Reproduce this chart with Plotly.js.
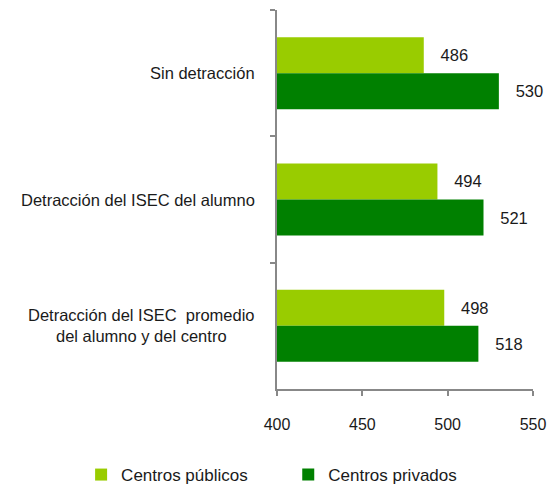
<!DOCTYPE html>
<html>
<head>
<meta charset="utf-8">
<script src="https://cdn.plot.ly/plotly-3.0.1.min.js"></script>
<style>html,body{margin:0;padding:0;background:#fff;}#chart{width:548px;height:486px;}</style>
</head>
<body>
<div id="chart"></div>
<script>
const categories = ["Sin detracción", "Detracción del ISEC del alumno", "Detracción del ISEC  promedio<br>del alumno y del centro"];
const seriesNames = ["Centros públicos", "Centros privados"];
const publicos = [486, 494, 498];
const privados = [530, 521, 518];
const xTicks = [400, 450, 500, 550];

const FONT = "Liberation Sans, Arial, sans-serif";
const pad = "\u00a0\u00a0\u00a0";

function barTrace(name, vals, color, leg) {
  return {
    type: "bar", orientation: "h", name: name, legend: leg,
    x: vals, y: categories,
    marker: {color: color},
    text: vals.map(v => pad + v), textposition: "outside", cliponaxis: false,
    textfont: {family: FONT, size: 16.5, color: "#1a1a1a"},
    hoverinfo: "x"
  };
}

const data = [
  barTrace(seriesNames[0], publicos, "#99CC00", "legend"),
  barTrace(seriesNames[1], privados, "#008000", "legend2")
];

const annotations = categories.map(c => ({
  xref: "paper", yref: "y", x: -0.078, y: c, xanchor: "right", yanchor: "middle",
  text: c, align: "center", showarrow: false,
  font: {family: FONT, size: 16.5, color: "#1a1a1a"}
}));

const legBase = {orientation: "h", xref: "container", xanchor: "left",
  y: 0.0226, yref: "container", yanchor: "middle",
  font: {family: FONT, size: 17, color: "#1a1a1a"}, bgcolor: "rgba(0,0,0,0)"};

const layout = {
  width: 548, height: 486,
  margin: {l: 277, r: 15, t: 10, b: 97, autoexpand: false},
  paper_bgcolor: "#fff", plot_bgcolor: "#fff",
  barmode: "group", bargap: 0.43, bargroupgap: 0,
  font: {family: FONT, size: 16, color: "#1a1a1a"},
  showlegend: true,
  legend: Object.assign({}, legBase, {x: 0.148}),
  legend2: Object.assign({}, legBase, {x: 0.526}),
  xaxis: {range: [400, 550], tickvals: xTicks, ticktext: xTicks.map(String),
          showgrid: false, zeroline: false, showline: true, linecolor: "#888", linewidth: 2,
          ticks: "outside", ticklen: 5, tickcolor: "#888", tickwidth: 2,
          ticklabelstandoff: 15, fixedrange: true},
  yaxis: {autorange: "reversed", type: "category", showticklabels: false,
          showgrid: false, zeroline: false, showline: true, linecolor: "#888", linewidth: 2,
          ticks: "outside", tickson: "boundaries", ticklen: 5, tickcolor: "#888", tickwidth: 2},
  annotations: annotations
};

Plotly.newPlot("chart", data, layout, {staticPlot: true, displayModeBar: false});
</script>
</body>
</html>
